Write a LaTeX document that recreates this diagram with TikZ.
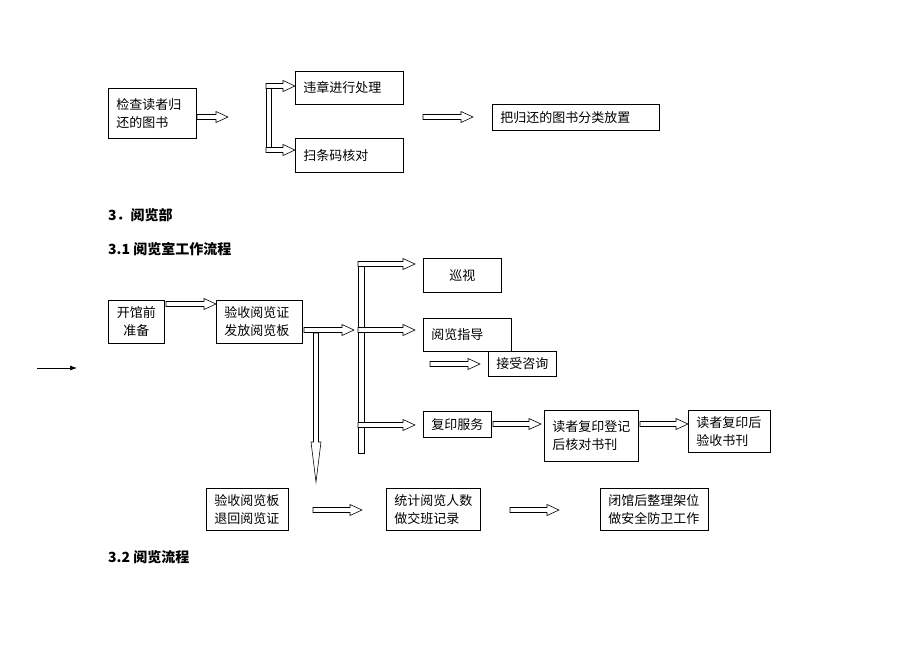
\documentclass[tikz,border=0pt]{standalone}
\usepackage{fontspec}
\newfontfamily\cjk{Noto Sans CJK SC}
\usetikzlibrary{arrows.meta, calc}

\tikzset{
  box/.style={draw, line width=0.7pt, anchor=north west, inner xsep=8pt, inner ysep=2pt, align=left, font=\cjk\fontsize{13}{18}\selectfont},
  head/.style={anchor=west, inner sep=0pt, font=\cjk\bfseries\fontsize{14}{16}\selectfont},
  barrow/.style={draw, fill=white, line width=0.6pt, to path={let \p1=(\tikztostart), \p2=(\tikztotarget) in
    (\x1,\y1+2.5pt) -- (\x2-12pt,\y1+2.5pt) -- (\x2-12pt,\y1+5.5pt) -- (\x2,\y1) -- (\x2-12pt,\y1-5.5pt) -- (\x2-12pt,\y1-2.5pt) -- (\x1,\y1-2.5pt) -- cycle}},
  vbarrow/.style={draw, fill=white, line width=0.6pt, to path={let \p1=(\tikztostart), \p2=(\tikztotarget) in
    (\x1-2.5pt,\y1) -- (\x1-2.5pt,\y2+40pt) -- (\x1-5pt,\y2+40pt) -- (\x1,\y2) -- (\x1+5pt,\y2+40pt) -- (\x1+2.5pt,\y2+40pt) -- (\x1+2.5pt,\y1) -- cycle}},
  rail/.style={draw, line width=0.6pt}
}

\begin{document}
\begin{tikzpicture}[x=1pt, y=-1pt]
  \useasboundingbox[fill=white] (0,0) rectangle (920,651);

  \node[box, text width=72pt, minimum height=50pt] (1) at (108,88) {检查读者归\\还的图书};
  \node[box, text width=92pt, minimum height=33pt] (2) at (295,71) {违章进行处理};
  \node[box, text width=92pt, minimum height=34pt] (3) at (295,138) {扫条码核对};
  \node[box, text width=151pt, minimum height=26pt] (4) at (492,104) {把归还的图书分类放置};

  \node[head] (h1) at (108,215) {3．阅览部};
  \node[head] (h2) at (108,249) {3.1 阅览室工作流程};
  \node[head] (h3) at (108,557) {3.2 阅览流程};

  \node[box, align=center, text width=40pt, minimum height=43pt] (5) at (108,300) {开馆前\\准备};
  \node[box, text width=70pt, minimum height=43pt] (6) at (216,300) {验收阅览证\\发放阅览板};
  \node[box, align=center, text width=62pt, minimum height=34pt] (7) at (423,258) {巡视};
  \node[box, text width=72pt, minimum height=33pt] (8) at (423,318) {阅览指导};
  \node[box, text width=52pt, minimum height=25pt] (9) at (488,351) {接受咨询};
  \node[box, text width=52pt, minimum height=26pt] (10) at (423,411) {复印服务};
  \node[box, text width=78pt, minimum height=51pt] (11) at (544,410) {读者复印登记\\后核对书刊};
  \node[box, text width=66pt, minimum height=42pt] (12) at (688,410) {读者复印后\\验收书刊};
  \node[box, text width=66pt, minimum height=42pt] (13) at (206,488) {验收阅览板\\退回阅览证};
  \node[box, text width=78pt, minimum height=42pt] (14) at (386,488) {统计阅览人数\\做交班记录};
  \node[box, text width=92pt, minimum height=42pt] (15) at (600,488) {闭馆后整理架位\\做安全防卫工作};

  \coordinate (r1) at (266,84);
  \coordinate (r2) at (271,152);
  \coordinate (r3) at (358,262);
  \coordinate (r4) at (364,453);
  \draw[rail] (r1) rectangle (r2);
  \draw[rail] (r3) rectangle (r4);

  \coordinate (a1) at (197,117);
  \coordinate (a2) at (228,117);
  \coordinate (b1) at (266,86);
  \coordinate (b2) at (295,86);
  \coordinate (c1) at (266,150);
  \coordinate (c2) at (295,150);
  \coordinate (d1) at (423,117);
  \coordinate (d2) at (473,117);
  \draw[barrow] (a1) to (a2);
  \draw[barrow] (b1) to (b2);
  \draw[barrow] (c1) to (c2);
  \draw[barrow] (d1) to (d2);

  \coordinate (l1) at (37,368);
  \coordinate (l2) at (77,368);
  \draw[line width=0.7pt, -{Latex[length=7pt, width=5pt]}] (l1) -- (l2);

  \coordinate (e1) at (166,304);
  \coordinate (e2) at (216,304);
  \coordinate (f1) at (304,330);
  \coordinate (f2) at (354,330);
  \coordinate (g1) at (316,333);
  \coordinate (g2) at (316,482);
  \coordinate (k1) at (358,264);
  \coordinate (k2) at (415,264);
  \coordinate (m1) at (358,330);
  \coordinate (m2) at (415,330);
  \coordinate (n1) at (358,425);
  \coordinate (n2) at (415,425);
  \coordinate (p1) at (430,364);
  \coordinate (p2) at (480,364);
  \coordinate (q1) at (493,424);
  \coordinate (q2) at (541,424);
  \coordinate (s1) at (640,424);
  \coordinate (s2) at (688,424);
  \coordinate (u1) at (313,510);
  \coordinate (u2) at (362,510);
  \coordinate (w1) at (510,510);
  \coordinate (w2) at (559,510);
  \draw[barrow] (e1) to (e2);
  \draw[barrow] (f1) to (f2);
  \draw[vbarrow] (g1) to (g2);
  \draw[barrow] (k1) to (k2);
  \draw[barrow] (m1) to (m2);
  \draw[barrow] (n1) to (n2);
  \draw[barrow] (p1) to (p2);
  \draw[barrow] (q1) to (q2);
  \draw[barrow] (s1) to (s2);
  \draw[barrow] (u1) to (u2);
  \draw[barrow] (w1) to (w2);
\end{tikzpicture}
\end{document}
